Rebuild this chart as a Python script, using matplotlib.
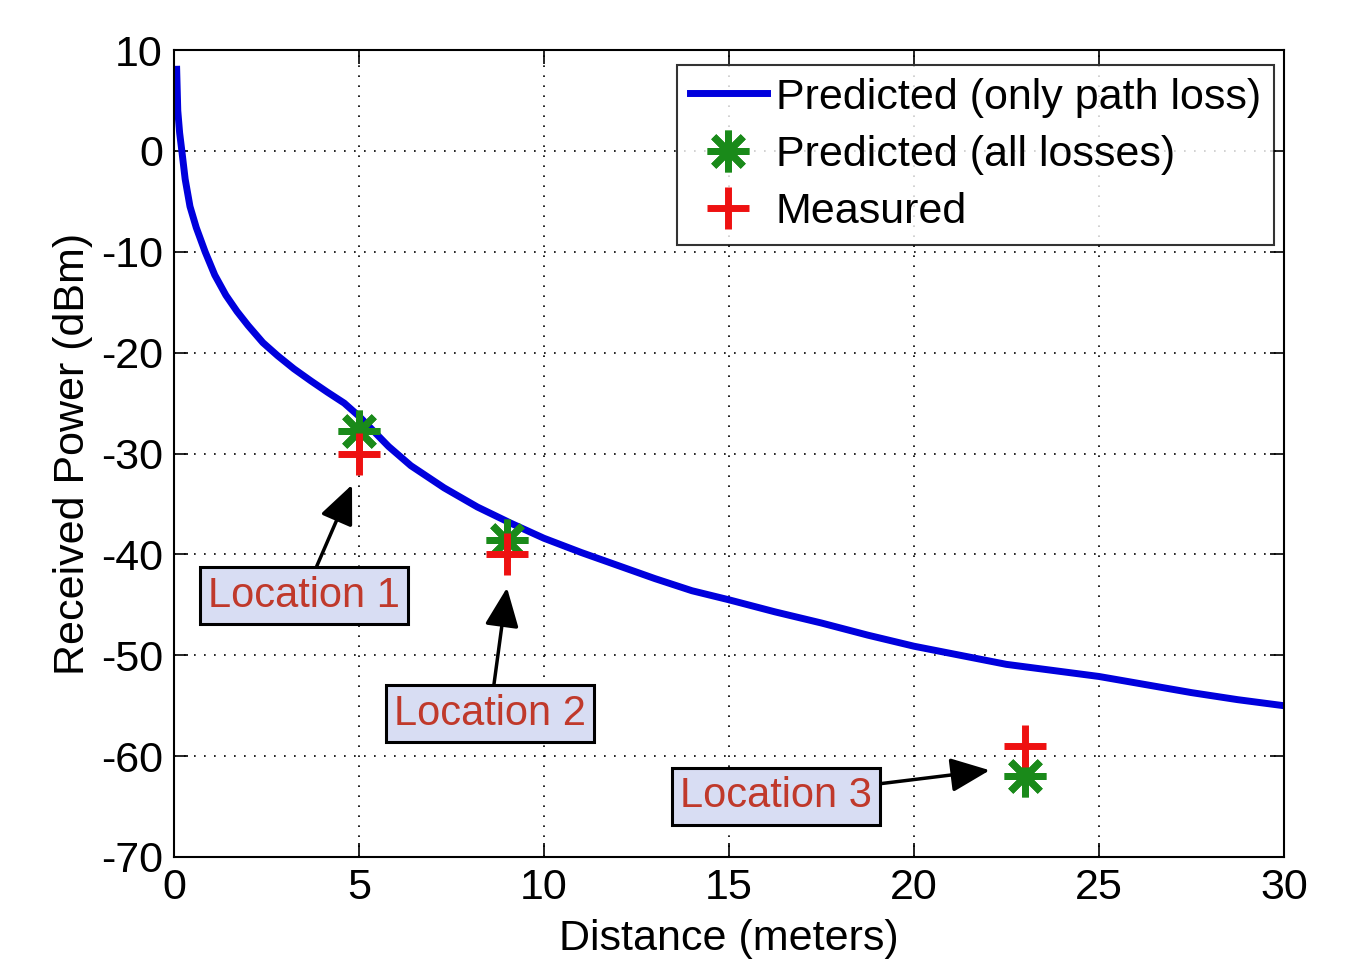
import numpy as np
import matplotlib.pyplot as plt

# path loss curve
dist = [0.07, 0.1, 0.15, 0.21, 0.3, 0.43, 0.6, 0.84, 1.1, 1.4, 1.7, 2.0, 2.4, 2.8,
        3.24, 3.7, 4.14, 4.6, 5.0, 5.4, 5.8, 6.4, 7.3, 8.2, 9.1, 10.0, 11.0, 12.0,
        13.0, 14.0, 15.0, 16.25, 17.5, 18.75, 20.0, 21.25, 22.5, 23.75, 25.0,
        26.25, 27.5, 28.75, 30.0]
power = [8.1, 4.0, 1.8, 0.0, -2.8, -5.5, -7.6, -10.0, -12.3, -14.3, -15.9, -17.3, -19.0, -20.3,
         -21.6, -22.8, -23.9, -25.0, -26.3, -27.8, -29.3, -31.2, -33.4, -35.3, -36.9, -38.4, -39.8, -41.1,
         -42.4, -43.6, -44.5, -45.7, -46.8, -48.0, -49.1, -50.0, -50.9, -51.5, -52.1,
         -52.9, -53.7, -54.4, -55.0]

loc_x = [5, 9, 23]
pred_all = [-27.8, -38.6, -62.0]
measured = [-30.0, -40.0, -59.0]
loc_names = ["Location 1", "Location 2", "Location 3"]

plt.rcParams['font.family'] = ['Liberation Sans', 'DejaVu Sans']
plt.rcParams['axes.unicode_minus'] = False

fig = plt.figure(figsize=(13.6, 9.64), dpi=100)
ax = fig.add_axes([0.128, 0.111, 0.816, 0.837])

ax.plot(dist, power, color='#0000dd', lw=5, label='Predicted (only path loss)')
ax.plot(loc_x, pred_all, ls='none', marker=(8, 2, 0), color='#1a8a1a', ms=30, mew=5,
        label='Predicted (all losses)')
ax.plot(loc_x, measured, ls='none', marker='+', color='#ee1111', ms=30, mew=5,
        label='Measured')

# labels with arrows
boxes = [(3.51, -44.1), (8.54, -55.8), (16.27, -64.0)]
tips = [(4.81, -33.1), (9.0, -43.3), (22.05, -61.4)]
for name, (tx, ty), (px, py) in zip(loc_names, boxes, tips):
    ax.annotate(name, xy=(px, py), xytext=(tx, ty), ha='center', va='center',
                fontsize=30, color='#c0392b',
                bbox=dict(boxstyle='square,pad=0.2', fc='#d8ddf3', ec='black', lw=2.2),
                arrowprops=dict(arrowstyle='-|>,head_length=0.8,head_width=0.35',
                                color='black', lw=2.5, shrinkA=0, shrinkB=0))

ax.set_xlim(0, 30)
ax.set_ylim(-70, 10)
ax.set_xticks(np.arange(0, 31, 5))
ax.set_yticks(np.arange(-70, 11, 10))
ax.grid(True, color='black', ls=(0, (1, 5)), lw=1.2)
ax.tick_params(direction='in', length=10, width=1.2, top=True, right=True,
               labelsize=31, pad=8)
for s in ax.spines.values():
    s.set_linewidth(1.5)

ax.set_xlabel('Distance (meters)', fontsize=31, labelpad=8)
ax.set_ylabel('Received Power (dBm)', fontsize=31, labelpad=6)

leg = ax.legend(loc='upper right', bbox_to_anchor=(0.991, 0.982), fontsize=31,
                frameon=True, fancybox=False, edgecolor='black', handlelength=1.8,
                labelspacing=0.4, borderpad=0.3, handletextpad=0.2, borderaxespad=0)
leg.get_frame().set_linewidth(1.5)

fig.savefig('out.png', dpi=100)
